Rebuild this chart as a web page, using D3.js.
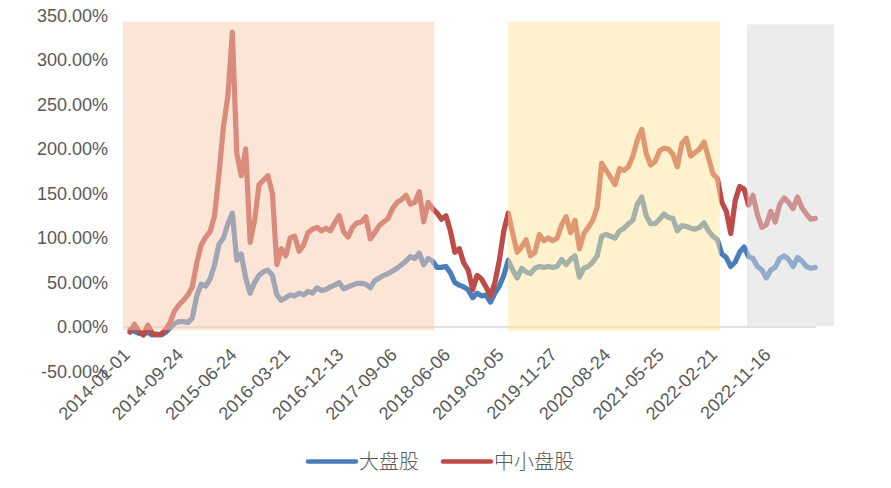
<!DOCTYPE html>
<html>
<head>
<meta charset="utf-8">
<script src="https://cdn.jsdelivr.net/npm/d3@7"></script>
<style>
  html, body { margin: 0; padding: 0; background: #fff; }
  svg { display: block; }
</style>
</head>
<body>
<svg id="chart" width="891" height="488"></svg>
<script>
// ---------- data (cumulative return, %) sampled every 15 trading days ----------
const sampleStep = 15;
const largeCap = [ // 大盘股
  -3,-5,-7,-8,-6,-9,-8,-9,-6,-1,
  4,6,6,5,10,35,48,46,54,70,
  93,100,116,128,75,82,55,38,50,58,
  62,64,58,36,30,33,36,35,38,36,
  40,38,44,41,42,45,47,50,43,45,
  47,49,49,48,44,52,55,58,60,63,
  66,70,74,79,77,83,70,77,74,67,
  67,68,61,50,47,45,42,33,38,35,
  36,28,38,46,58,75,64,55,66,62,
  60,66,68,67,68,67,68,76,70,76,
  80,56,66,68,73,80,102,104,102,100,
  108,111,116,120,138,146,125,116,116,121,
  127,123,122,108,114,113,111,110,112,117,
  108,102,98,82,78,68,73,84,90,79,
  77,68,64,55,64,67,77,80,76,68,
  78,74,68,66,67
];
const smallCap = [ // 中小盘股
  -6,3,-5,-9,2,-7,-9,-8,-3,5,
  18,25,30,36,45,72,92,101,107,125,
  172,225,260,331,195,170,200,95,120,160,
  165,170,150,70,88,80,100,102,85,92,
  106,110,112,108,111,108,117,125,107,101,
  112,117,118,124,99,106,114,118,122,133,
  140,143,148,138,140,152,118,140,133,128,
  121,125,108,84,88,72,64,42,58,54,
  45,35,50,75,108,128,105,84,90,98,
  80,84,104,97,100,97,100,115,124,106,
  120,88,105,112,120,135,184,176,168,160,
  178,176,180,192,210,222,195,182,186,198,
  201,200,194,180,206,212,192,196,200,208,
  190,172,167,140,130,105,142,158,155,137,
  148,126,112,115,130,118,138,145,140,133,
  146,134,127,121,122
];
const tickLabels = ["2014-01-01","2014-09-24","2015-06-24","2016-03-21","2016-12-13",
  "2017-09-06","2018-06-06","2019-03-05","2019-11-27","2020-08-24",
  "2021-05-25","2022-02-21","2022-11-16"];
const tickEvery = 180; // trading days between labels
const yTicks = [-50, 0, 50, 100, 150, 200, 250, 300, 350];
const seriesNames = ["大盘股", "中小盘股"];
const seriesColors = ["#4A7EBB", "#BE4B48"];
// shaded periods: [start day, end day, top %, bottom %, colour]
const periodStart = [-24, 1274, 2080];
const periodEnd   = [1025, 1988, 2373];
const periodTop   = [343, 343, 340];
const periodBottom= [-3.5, -4.5, 1];
const periodColor = ["#F8CBAD", "#FFE699", "#D9D9D9"];

// ---------- chart ----------
const svg = d3.select("#chart");
const lastDay = (largeCap.length - 1) * sampleStep;
const x = d3.scaleLinear().domain([0, lastDay]).range([130, 815.3]);
const y = d3.scaleLinear().domain([-50, 350]).range([371.5, 15.5]);
const textColor = "#595959";
const font = "'Liberation Sans', Arial, sans-serif";

// y tick labels
svg.append("g").selectAll("text").data(yTicks).join("text")
  .attr("x", 108).attr("y", d => y(d)).attr("dy", "0.35em")
  .attr("text-anchor", "end").attr("font-family", font).attr("font-size", 18)
  .attr("fill", textColor)
  .text(d => d.toFixed(2) + "%");

// x axis line
svg.append("line")
  .attr("x1", x(-24)).attr("x2", x(lastDay + 3))
  .attr("y1", y(0)).attr("y2", y(0))
  .attr("stroke", "#D9D9D9").attr("stroke-width", 1.5);

// x tick labels
const xTicks = tickLabels.map((t, i) => ({ day: i * tickEvery, label: t }));
svg.append("g").selectAll("text").data(xTicks).join("text")
  .attr("transform", d => `translate(${x(d.day) + 1},${y(0) + 29}) rotate(-45)`)
  .attr("text-anchor", "end").attr("font-family", font).attr("font-size", 18)
  .attr("fill", textColor)
  .text(d => d.label);

// lines
const line = d3.line().x((d, i) => x(i * sampleStep)).y(d => y(d));
[largeCap, smallCap].forEach((s, k) => {
  svg.append("path").datum(s)
    .attr("d", line)
    .attr("fill", "none")
    .attr("stroke", seriesColors[k])
    .attr("stroke-width", 5.2)
    .attr("stroke-linejoin", "round")
    .attr("stroke-linecap", "round");
});

// shaded periods (semi-transparent overlays above the lines)
svg.append("g").selectAll("rect").data(periodStart).join("rect")
  .attr("x", (d, i) => x(d))
  .attr("width", (d, i) => x(periodEnd[i]) - x(d))
  .attr("y", (d, i) => y(periodTop[i]))
  .attr("height", (d, i) => y(periodBottom[i]) - y(periodTop[i]))
  .attr("fill", (d, i) => periodColor[i])
  .attr("fill-opacity", 0.5);

// legend
const legendX = [308, 443];
const lg = svg.append("g");
seriesNames.forEach((name, k) => {
  lg.append("line")
    .attr("x1", legendX[k]).attr("x2", legendX[k] + 48)
    .attr("y1", 461.5).attr("y2", 461.5)
    .attr("stroke", seriesColors[k]).attr("stroke-width", 4.5)
    .attr("stroke-linecap", "round");
  lg.append("text")
    .attr("x", legendX[k] + 51).attr("y", 461.5).attr("dy", "0.36em")
    .attr("font-family", "'Noto Sans CJK SC', sans-serif").attr("font-size", 20)
    .attr("font-weight", 300)
    .attr("fill", textColor)
    .text(name);
});
</script>
</body>
</html>
